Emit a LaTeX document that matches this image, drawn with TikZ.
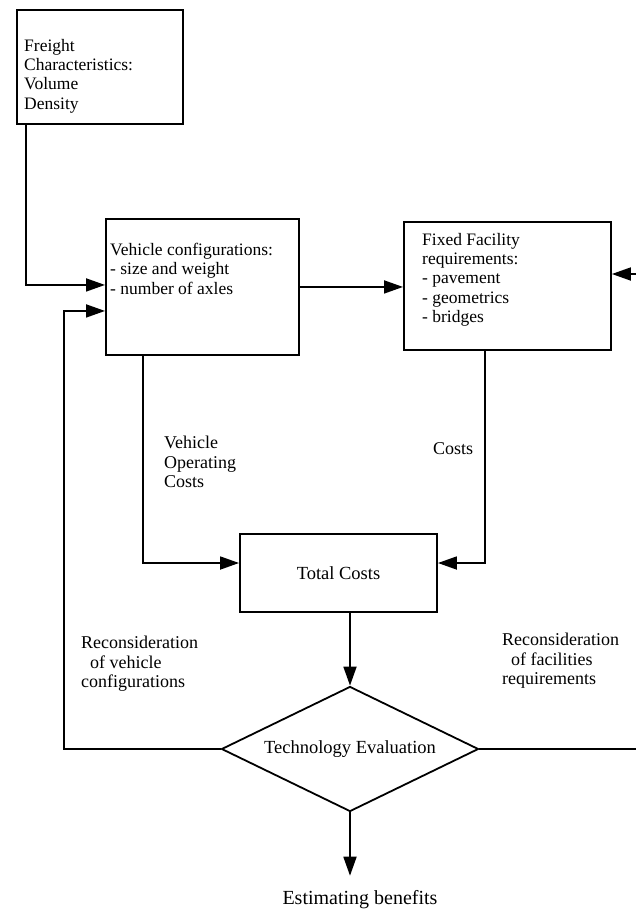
\documentclass[tikz,border=0pt]{standalone}
\usepackage{fontspec}
\setmainfont{Liberation Serif}
\usetikzlibrary{arrows.meta}
\usetikzlibrary{shapes.geometric}

\begin{document}
\begin{tikzpicture}[x=1pt,y=-1pt]
\tikzset{>={Triangle[width=13pt,length=19pt]}}
\tikzstyle{box} =[draw, rectangle, line width=1.9pt, anchor=north west, inner sep=0pt]
\tikzstyle{boxtext} =[anchor=north west, align=left, inner sep=0pt, font=\fontsize{17.5}{19.3}\selectfont]
\tikzstyle{edgetext} =[anchor=north west, align=left, inner sep=0pt, font=\fontsize{18}{19.4}\selectfont]
\tikzstyle{link} =[->, line width=1.8pt]

\useasboundingbox (0,0) rectangle (636,913);

% boxes
\node[box, minimum width=166pt, minimum height=114pt] (freight) at (16,9) {};
\node[boxtext] (freighttext) at ([xshift=8pt,yshift=-30pt]freight.north west) {Freight\\Characteristics:\\Volume\\Density};

\node[box, minimum width=193pt, minimum height=136pt] (vehicle) at (105,218) {};
\node[boxtext] (vehicletext) at ([xshift=5pt,yshift=-25pt]vehicle.north west) {Vehicle configurations:\\- size and weight\\- number of axles};

\node[box, minimum width=207pt, minimum height=128pt] (fixed) at (403,221) {};
\node[boxtext] (fixedtext) at ([xshift=19pt,yshift=-12pt]fixed.north west) {Fixed Facility\\requirements:\\- pavement\\- geometrics\\- bridges};

\node[box, anchor=center, minimum width=197pt, minimum height=78pt, font=\fontsize{18.5}{20}\selectfont] (total) at (338.5,573) {Total Costs};

\node[draw, diamond, shape aspect=2, line width=1.8pt, inner sep=0pt, minimum width=257pt, minimum height=125pt, font=\fontsize{18.5}{20}\selectfont] (evaluation) at (350,749) {Technology Evaluation};

\node[anchor=base, inner xsep=0pt, inner ysep=14pt, font=\fontsize{20}{22}\selectfont] (benefits) at (360,904) {Estimating benefits};

% connector labels
\node[edgetext] (vocost) at (164,436) {Vehicle\\Operating\\Costs};
\node[edgetext] (ffcost) at (433,442) {Costs};
\node[edgetext] (reconveh) at (81,636) {Reconsideration\\\hspace*{9pt}of vehicle\\configurations};
\node[edgetext] (reconfac) at (502,633) {Reconsideration\\\hspace*{9pt}of facilities\\requirements};

\coordinate (leftturn) at (64,749);
\coordinate (rightout) at (636,751);
\coordinate (rightin) at (636,274);

% connectors
\draw[link] ([xshift=10pt]freight.south west) |- ([yshift=2pt]vehicle.west);
\draw[link] (evaluation.west) -- (leftturn) |- ([yshift=-24pt]vehicle.west);
\draw[link] (vehicle.east) -- (vehicle.east -| fixed.west);
\draw[link] ([xshift=38pt]vehicle.south west) |- ([yshift=10pt]total.west);
\draw[link] ([xshift=82pt]fixed.south west) |- ([yshift=10pt]total.east);
\draw[link] (total.south -| evaluation.north) -- (evaluation.north);
\draw[link] (evaluation.south) -- (evaluation.south |- benefits.north);
\draw[line width=1.8pt] (evaluation.east) -- (evaluation.east -| rightout);
\draw[link] (rightin) -- (rightin -| fixed.east);
\end{tikzpicture}
\end{document}
